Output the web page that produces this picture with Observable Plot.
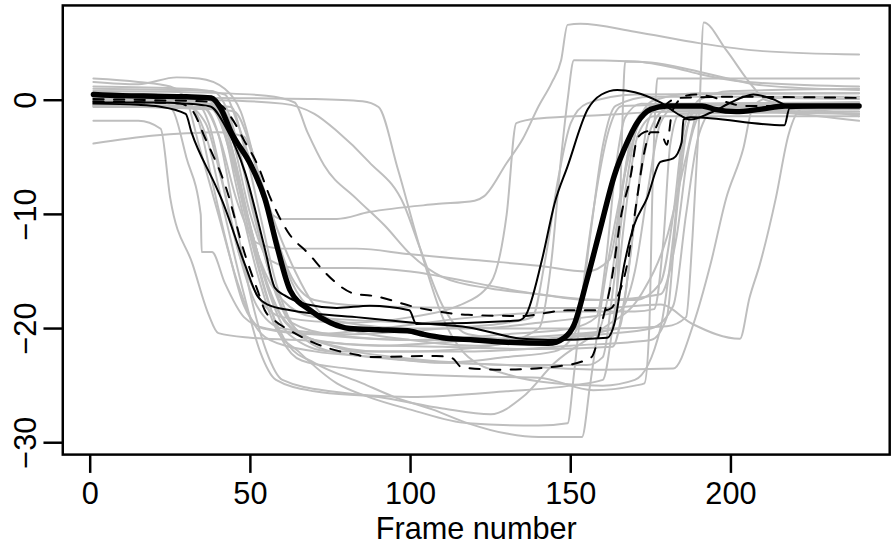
<!DOCTYPE html>
<html><head><meta charset="utf-8">
<script src="https://cdn.jsdelivr.net/npm/d3@7"></script>
<script src="https://cdn.jsdelivr.net/npm/@observablehq/plot@0.6"></script>
<style>
html,body{margin:0;padding:0;background:#fff;overflow:hidden;width:891px;height:552px}
#chart svg{display:block}
</style></head><body><div id="chart"></div>
<script>
// ---- axis ticks and labels ----
const xTicks = [0, 50, 100, 150, 200];
const yTicks = [0, -10, -20, -30];
const yTickLabels = ["0", "−10", "−20", "−30"];
const xTitle = "Frame number";

// ---- grey individual series: [frame, value] ----
const g01 = [[1,-1.8],[15,-1.8],[22,-2.5],[25,-8.6],[32,-14.4],[37,-18.8],[40,-20.4],[50,-20.8],[65,-21],[83,-21.4],[110,-21.6],[140,-21.8],[163,-21.6],[167,-17],[171,-8],[175,-2.5],[180,-0.8],[240,-1.2]];
const g02 = [[1,0.6],[20,0.5],[26,-1],[30,-5],[34.5,-10],[34.8,-13.3],[38,-13.3],[42,-16],[48,-19],[55,-20],[70,-20.5],[100,-21],[130,-20.5],[150,-20],[158,-19],[161,-14],[164,-6],[167,-1.5],[172,-0.3],[240,-0.5]];
const g03 = [[1,1.9],[15,1.6],[25,1.2],[30,0],[34,-4],[40,-10],[46,-16],[50,-19],[56,-21],[70,-22],[90,-22.5],[110,-23],[130,-22.5],[145,-22],[152,-20],[156,-12],[160,-4],[164,-0.5],[175,0.3],[240,0.3]];
const g04 = [[1,1.6],[15,1.4],[27,2.0],[34,1.9],[42,1.0],[47,-1],[52,-6],[58,-12],[63,-16],[70,-18.5],[80,-19.5],[100,-20],[120,-20],[140,-19.5],[155,-19],[165,-18.5],[170,-15],[174,-8],[178,-2],[183,-0.5],[240,-0.3]];
const g05 = [[1,-3.8],[20,-3.1],[30,-2.9],[40,-2.8],[48,-3.2],[52,-6],[58,-11],[64,-15],[70,-18],[80,-20],[100,-21],[120,-21.5],[140,-21],[160,-20.5],[175,-20],[182,-18],[186,-10],[190,-3],[195,-0.8],[240,-1.8]];
const g06 = [[1,-0.6],[20,-0.6],[38,-0.8],[42,-3],[48,-9],[54,-16],[60,-21],[66,-22.8],[80,-23.5],[100,-24],[120,-24.2],[140,-24.3],[157,-25.4],[170,-25],[173,-24.8],[174.5,-20],[175.5,-8],[176.5,0],[177,1.9],[200,1.9],[240,1.9]];
const g07 = [[1,1.2],[30,1.0],[42,0.5],[46,-2],[52,-7],[56,-9.8],[60,-10.4],[77,-10.4],[87,-9.8],[108,-9.1],[120,-8.8],[123,-8.4],[130,-5.5],[135,-3.4],[140,-0.5],[144,1.5],[147,3.5],[149,6.6],[153,6.7],[170,6.0],[190,5.0],[210,4.3],[240,4.0]];
const g08 = [[1,0.3],[40,0.2],[70,0.1],[85,-0.1],[90,-0.6],[96,-6],[103,-13],[110,-19],[118,-22.5],[130,-24],[145,-24.8],[160,-25],[170,-24.5],[178,-20],[182,-12],[185,-4],[189,-1],[240,-0.6]];
const g09 = [[1,0.8],[30,0.7],[55,0.4],[63.8,-0.2],[67.8,-2.8],[73,-5.7],[83,-8.6],[92,-11],[100,-13.5],[110,-15.5],[125,-16.5],[140,-17],[155,-17.5],[170,-17.5],[178,-16],[182,-10],[185,-3],[188,-0.8],[240,-0.2]];
const g10 = [[1,0],[30,-0.3],[36,-3],[42,-10],[48,-17],[53,-22],[58,-24.5],[70,-25.5],[90,-26],[110,-27],[125,-27.5],[135,-26],[145,-23],[160,-20],[172,-17],[180,-12],[186,-5],[190,-1],[240,-1]];
const g11 = [[1,0.2],[30,0],[38,-0.5],[44,-5],[50,-12],[56,-18],[62,-21.5],[70,-23],[85,-24.8],[95,-26],[107,-27.1],[118,-28.3],[130,-29.2],[140,-29.5],[153.5,-29.5],[156,-25],[160,-17],[165,-9],[170,-3],[175,-0.8],[240,-0.5]];
const g12 = [[1,0.5],[35,0.3],[40,-1],[46,-8],[52,-15],[58,-20],[65,-22],[77,-24.8],[87,-26],[100,-27.1],[118,-28.3],[140,-28.5],[149,-28.3],[151,-24],[154,-16],[158,-8],[162,-2.5],[166,-0.5],[240,-0.2]];
const g13 = [[1,-0.4],[30,-0.6],[45,-1],[50,-4],[56,-10],[62,-15],[70,-17.5],[85,-18],[120,-18.2],[160,-18.2],[178,-17.9],[188,-19.6],[202.8,-20.9],[205.8,-17.3],[209,-14.4],[214,-8.6],[218,-3],[222,-0.8],[240,-1.4]];
const g14 = [[1,-0.1],[30,-0.3],[44,-0.6],[48,-4],[53,-10],[58,-16],[64,-20],[75,-22],[100,-22.8],[130,-23.2],[160,-23.6],[182,-23.5],[188.3,-19.6],[193.6,-14.4],[198.5,-8.6],[203.8,-4.3],[207,-0.5],[212,0.2],[240,0.1]];
const g15 = [[1,0],[35,-0.2],[41,-2],[47,-8],[53,-14],[60,-17.5],[70,-19],[100,-19.5],[130,-20],[160,-20],[180,-19.8],[186,-19],[188,-12],[190,-2],[191.5,6.8],[198.5,4.4],[206.8,1.2],[211,0],[220,-0.4],[240,-0.6]];
const g16 = [[1,0.4],[36,0.2],[42,-2],[48,-9],[54,-15],[60,-19],[70,-21],[90,-22],[120,-22],[150,-21.5],[175,-21],[180,-19],[183,-10],[186,-3],[190,0],[200,0.8],[240,1.0]];
const g17 = [[1,-0.1],[38,-0.3],[43,-3],[49,-10],[55,-16],[61,-19.5],[70,-21],[90,-21.5],[120,-21],[150,-20.5],[165,-20],[168,-15],[171,-8],[174,-2],[178,-0.3],[240,-0.2]];
const g18 = [[1,0.1],[32,0],[37,-2],[42,-8],[47,-14],[52,-18],[60,-20],[80,-20.5],[110,-20],[130,-19.5],[138,-19],[142,-14],[146,-7],[150,-2],[155,-0.3],[170,0.5],[240,0.6]];
const g19 = [[1,-0.4],[30,-0.5],[36,-2],[41,-7],[46,-13],[52,-17],[60,-19],[80,-19.5],[100,-19],[115,-18],[125,-16],[130,-10],[133,-2],[140,-1.6],[160,-1.3],[180,-1],[240,-0.8]];
const g20 = [[1,0.2],[38,0],[44,-4],[50,-11],[56,-17],[62,-20.5],[75,-22],[100,-22],[125,-21.5],[140,-20],[144,-14],[147,-5],[149,0],[151,3.5],[170,3.4],[183,2.8],[190,2.3],[205,1.6],[240,1.2]];
const g21 = [[1,-0.2],[40,-0.4],[45,-3],[51,-10],[57,-16],[63,-19.5],[75,-20.5],[100,-21],[130,-21],[155,-20.5],[163,-20],[165,-13],[166,-3],[167,3.4],[175,3.3],[190,2.5],[210,1.3],[240,0.9]];
const g22 = [[1,-0.5],[35,-0.6],[40,-3],[46,-9],[52,-12.5],[60,-13],[83,-13],[100,-13.5],[120,-14],[140,-14.5],[155,-15],[162,-14],[166,-8],[170,-2],[175,-1],[240,-1.2]];
const g23 = [[1,0.5],[38,0.3],[44,-3],[50,-10],[56,-14],[65,-14.7],[83,-14.7],[100,-15],[120,-16],[140,-17],[160,-17.5],[178,-17],[183,-12],[187,-4],[192,-0.8],[240,-0.5]];
const g24 = [[1,0.1],[40,0],[60,-0.3],[70,-1.2],[77,-2.7],[87,-5.4],[98,-9.2],[103,-13],[110,-18],[118,-20.5],[135,-21],[150,-21],[158,-20.5],[163,-15],[167,-6],[171,-1.5],[176,-0.5],[240,-0.3]];
const g25 = [[1,-0.5],[36,-0.8],[40,-3],[45,-10],[50,-17],[55,-22],[60,-24.5],[75,-25.5],[100,-26],[130,-25.5],[150,-25],[160,-24.5],[163,-20],[167,-10],[171,-3],[176,-1.4],[240,-1.4]];
const g26 = [[1,1.0],[38,0.8],[43,-1],[48,-6],[53,-12],[58,-17],[64,-20],[75,-21.5],[95,-22.5],[115,-23],[135,-23.2],[155,-23.2],[160,-22.5],[163,-17],[167,-8],[171,-2],[176,0],[190,0.6],[240,0.6]];
const g27 = [[1,0.1],[30,0],[34,-2],[38,-7],[43,-13],[48,-18],[54,-20],[70,-20.5],[90,-20],[120,-19],[150,-18.5],[170,-18.5],[176,-18.3],[179,-12],[181,-4],[184,-1.2],[240,-1.0]];
const greySeries = [g01,g02,g03,g04,g05,g06,g07,g08,g09,g10,g11,g12,g13,g14,g15,g16,g17,g18,g19,g20,g21,g22,g23,g24,g25,g26,g27];

// ---- black summary series ----
const thickMain = [[1,0.5],[10,0.4],[20,0.35],[30,0.3],[37.8,0.2],[40.9,-0.8],[44,-2.8],[50.2,-5.7],[54.5,-8.6],[58.5,-13],[62.5,-16.7],[68.7,-18.4],[75,-19.5],[81,-20],[90,-20.1],[99,-20.2],[104,-20.5],[110,-20.8],[120,-21.0],[130,-21.2],[143,-21.3],[148,-20.8],[151,-19.7],[155,-15.8],[159,-11.5],[163.6,-6.6],[167.6,-3.7],[170.7,-2],[175,-0.8],[180,-0.5],[191,-0.5],[195,-0.8],[201.6,-1.0],[209,-0.8],[217,-0.5],[240,-0.5]];
const thinEarly = [[1,-0.2],[20,-0.2],[30,-0.3],[37.5,-0.55],[42.2,-2.3],[48.3,-6.3],[54.5,-13],[57.6,-16.4],[60.7,-17.1],[67.8,-17.9],[77,-18.2],[87.3,-18.0],[99.6,-18.4],[101.8,-19.6],[133.6,-19.3],[135.8,-18.9],[141,-14],[145,-9],[149,-5.8],[155.3,-0.8],[159.6,0.5],[164.5,0.9],[170,0.7],[178,-0.2],[184,-1.3],[187.4,-1.7],[193.6,-1.1],[200,-0.2],[204,0.3],[207,0.5],[213,0.1],[218.3,-0.5],[240,-0.5]];
const thinLate = [[1,-0.3],[15,-0.4],[21.5,-0.55],[29.8,-1.2],[31.6,-2.8],[39,-7.4],[40.9,-8.6],[48.3,-14.4],[52.3,-17.2],[55.4,-17.9],[62.5,-18.4],[83,-19.0],[100.9,-19.5],[118.2,-19.9],[134.9,-20.9],[142.9,-21.0],[161.4,-20.8],[163.6,-19.6],[166.7,-14.4],[169.7,-11],[173.8,-8.6],[178,-5.4],[182,-5.1],[184.6,-3.7],[185.2,-1.7],[187.4,-1.5],[216.7,-2.2],[218.3,-0.7],[240,-0.5]];
const dashUpper = [[1,0.1],[20,0],[35,-0.1],[40,-0.3],[44,-1.5],[48,-3.5],[52.3,-5.7],[56.3,-8.6],[61.6,-11.5],[68.7,-13.6],[73,-15],[83.2,-17],[87.3,-17.1],[102.7,-18.2],[118,-18.8],[134.8,-18.9],[149,-18.4],[160.5,-18.4],[162.7,-18.2],[164.5,-17.3],[167.6,-14.4],[170.7,-8.6],[173,-4.5],[175,-2.8],[178,-2.8],[180,-3.9],[181.5,-1.2],[183,-0.3],[186,0.4],[189,0.5],[194,0.3],[199,-0.2],[204,-0.5],[215,-0.5],[240,-0.5]];
const dashLower = [[1,-0.1],[20,-0.2],[28,-0.3],[31.6,-0.8],[36,-3.4],[42.2,-7.5],[48.3,-13.5],[52.3,-16.7],[54.5,-18.4],[57.6,-19.3],[62.5,-20.2],[73,-21.6],[83.2,-22.3],[87,-22.5],[108,-22.4],[113,-22.6],[116,-23.4],[128.7,-23.6],[149,-23.2],[154.3,-22.8],[156.5,-22.5],[159.6,-19.6],[162.7,-15.8],[165.8,-10],[168.8,-6.5],[170.7,-3.4],[173,-2.8],[176,-2.6],[178,-1.5],[180,-0.3],[184,0.2],[200,0.3],[240,0.2]];

// ---- build tables ----
const toRows = (arr, id) => arr.map(([frame, value]) => ({series: id, frame, value}));
const greyRows = greySeries.flatMap((s, i) => toRows(s, "g" + i));
const thinRows = [...toRows(thinEarly, "thinEarly"), ...toRows(thinLate, "thinLate")];
const dashRows = [...toRows(dashUpper, "dashUpper"), ...toRows(dashLower, "dashLower")];
const thickRows = toRows(thickMain, "thick");

const FONT = "'Liberation Sans', Arial, Helvetica, sans-serif";
const lineOpts = {x: "frame", y: "value", z: "series", curve: "monotone-x", strokeLinejoin: "round", strokeLinecap: "round"};

const chart = Plot.plot({
  width: 900,
  height: 552,
  marginLeft: 62.9,
  marginRight: 1.8,
  marginTop: 5,
  marginBottom: 93.3,
  x: {domain: [-8.56, 249.56]},
  y: {domain: [-31.04, 8.3]},
  style: {fontFamily: FONT, background: "white", color: "black"},
  marks: [
    Plot.line(greyRows, {...lineOpts, stroke: "#bebebe", strokeWidth: 2}),
    Plot.line(thinRows, {...lineOpts, stroke: "black", strokeWidth: 2}),
    Plot.line(dashRows, {...lineOpts, stroke: "black", strokeWidth: 2, strokeDasharray: "10.4,10.4"}),
    Plot.line(thickRows, {...lineOpts, stroke: "black", strokeWidth: 5.5}),
    Plot.frame({stroke: "black", strokeWidth: 2.5}),
    Plot.axisX(xTicks, {tickSize: 19, tickPadding: 9.3, fontSize: 31, strokeWidth: 2.5, label: null, tickFormat: d => String(d), fill: "black"}),
    Plot.axisY(yTicks, {tickSize: 19, tickFormat: () => "", strokeWidth: 2.5, label: null}),
    Plot.text(yTicks, {y: d => d, text: (d, i) => yTickLabels[i], frameAnchor: "left", dx: -26.7, rotate: -90, textAnchor: "middle", lineAnchor: "bottom", fontSize: 31, fill: "black"}),
    Plot.text([xTitle], {text: d => d, frameAnchor: "bottom", dy: 85.5, lineAnchor: "bottom", fontSize: 31, fill: "black"})
  ]
});
document.getElementById("chart").appendChild(chart);
</script>
</body></html>
